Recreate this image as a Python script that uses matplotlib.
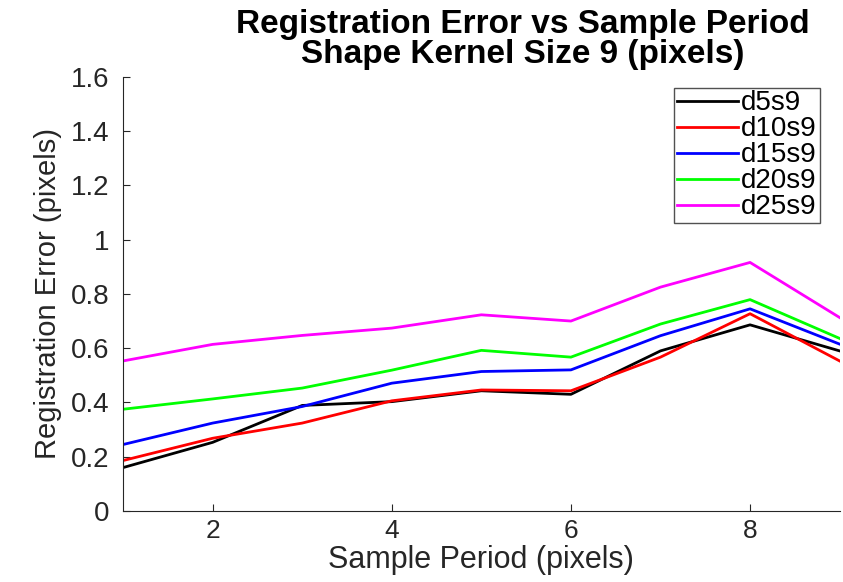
import matplotlib
matplotlib.use('Agg')
import matplotlib.pyplot as plt

plt.rcParams['font.family'] = ['Liberation Sans', 'DejaVu Sans']

period = [1, 2, 3, 4, 5, 6, 7, 8, 9]
d5s9 = [0.160, 0.253, 0.389, 0.403, 0.443, 0.430, 0.590, 0.686, 0.590]
d10s9 = [0.186, 0.268, 0.324, 0.406, 0.446, 0.443, 0.567, 0.727, 0.553]
d15s9 = [0.245, 0.324, 0.385, 0.471, 0.514, 0.520, 0.646, 0.745, 0.615]
d20s9 = [0.375, 0.413, 0.453, 0.519, 0.592, 0.567, 0.689, 0.779, 0.636]
d25s9 = [0.553, 0.614, 0.647, 0.674, 0.723, 0.700, 0.825, 0.916, 0.713]
names = ['d5s9', 'd10s9', 'd15s9', 'd20s9', 'd25s9']
colors = ['black', 'red', 'blue', '#00ff00', 'magenta']

dark = '#262626'

fig = plt.figure(figsize=(8.43, 5.82), dpi=100)
ax = fig.add_axes([0.146, 0.122, 0.85, 0.746])

for ys, name, c in zip([d5s9, d10s9, d15s9, d20s9, d25s9], names, colors):
    ax.plot(period, ys, color=c, lw=2, label=name)

ax.set_xlim(1, 9)
ax.set_ylim(0, 1.6)
ax.set_xticks([2, 4, 6, 8])
ax.set_yticks([0, 0.2, 0.4, 0.6, 0.8, 1.0, 1.2, 1.4, 1.6])
ax.set_yticklabels(['0', '0.2', '0.4', '0.6', '0.8', '1', '1.2', '1.4', '1.6'])
ax.tick_params(direction='in', labelsize=20, length=5, color=dark, labelcolor=dark, pad=10)
ax.tick_params(axis='x', pad=6, labelsize=19)
ax.spines['top'].set_visible(False)
ax.spines['right'].set_visible(False)
for s in ['left', 'bottom']:
    ax.spines[s].set_color(dark)

ax.set_xlabel('Sample Period (pixels)', fontsize=22, labelpad=1, color=dark)
ax.set_ylabel('Registration Error (pixels)', fontsize=21, labelpad=6, color=dark)
ax.set_title('Registration Error vs Sample Period\nShape Kernel Size 9 (pixels)',
             fontsize=24, fontweight='bold', linespacing=0.95, pad=10, x=0.558)

leg = ax.legend(loc='upper right', fontsize=20, handlelength=2.2, handletextpad=0.1,
                labelspacing=0.0, borderpad=0.1, borderaxespad=0, fancybox=False,
                bbox_to_anchor=(0.972, 0.975))
leg.get_frame().set_edgecolor(dark)
leg.get_frame().set_linewidth(1)

fig.savefig('out.png', dpi=100)
